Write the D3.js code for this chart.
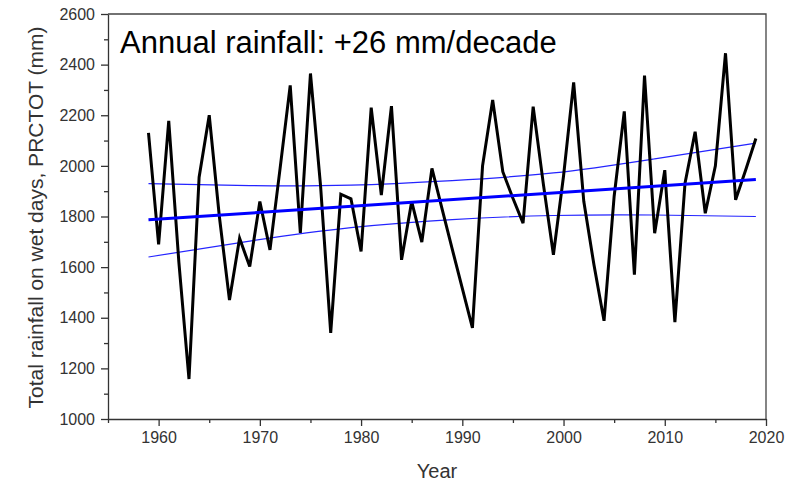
<!DOCTYPE html>
<meta charset="utf-8">

<style>
body { margin: 0; background: #fff; }

.axis text {
  font: 16px Arial, "Liberation Sans", sans-serif;
  fill: #333;
}

.axis path, .axis line {
  stroke: #333;
  stroke-width: 1.3px;
}

.frame {
  fill: none;
  stroke: #444;
  stroke-width: 1.3px;
}

.label {
  font-family: Arial, "Liberation Sans", sans-serif;
  fill: #333;
}

.title {
  font: 31px Arial, "Liberation Sans", sans-serif;
  fill: #000;
}

.rain {
  fill: none;
  stroke: #000;
  stroke-width: 3px;
}

.trend {
  fill: none;
  stroke: #0000ff;
  stroke-width: 3px;
}

.band {
  fill: none;
  stroke: #2424ff;
  stroke-width: 1.2px;
}
</style>

<svg width="800" height="483"></svg>
<script src="https://d3js.org/d3.v7.min.js"></script>

<script>
// annual PRCTOT (mm), 1959-2019
var years = d3.range(1959, 2020);
var rainfall = [
  2130, 1690, 2178, 1620, 1158, 1955, 2200, 1800, 1470, 1714,
  1602, 1859, 1668, 1990, 2318, 1735, 2365, 1920, 1340, 1888,
  1870, 1662, 2230, 1885, 2236, 1629, 1859, 1699, 1990, 1830,
  1672, 1516, 1360, 2000, 2260, 1977, 1872, 1774, 2234, 1930,
  1649, 1960, 2330, 1860, 1610, 1388, 1880, 2215, 1570, 2357,
  1734, 1983, 1383, 1932, 2135, 1813, 2000, 2445, 1866, 1985,
  2108
];

// linear trend (+26 mm/decade)
var trendYears = [1959, 2019];
var trendValues = [1787, 1946];

// confidence band, read at each decade
var bandYears = [1959, 1969, 1979, 1989, 1999, 2009, 2019];
var bandUpper = [1930, 1922, 1924, 1942, 1972, 2028, 2090];
var bandLower = [1640, 1703, 1756, 1788, 1804, 1806, 1800];

var yMajor = [1000, 1200, 1400, 1600, 1800, 2000, 2200, 2400, 2600];
var yMinor = [1100, 1300, 1500, 1700, 1900, 2100, 2300, 2500];
var xMajor = [1960, 1970, 1980, 1990, 2000, 2010, 2020];
var xMinor = [1955, 1965, 1975, 1985, 1995, 2005, 2015];

var svg = d3.select("svg"),
    margin = {top: 14, right: 34, bottom: 64, left: 108},
    width = svg.attr("width") - margin.left - margin.right,
    height = svg.attr("height") - margin.top - margin.bottom,
    g = svg.append("g").attr("transform", "translate(" + margin.left + "," + margin.top + ")");

var x = d3.scaleLinear().domain([1955, 2020]).range([0, width]),
    y = d3.scaleLinear().domain([1000, 2600]).range([height, 0]);

var line = d3.line()
    .x(function(d) { return x(d[0]); })
    .y(function(d) { return y(d[1]); });

var smooth = d3.line()
    .curve(d3.curveNatural)
    .x(function(d) { return x(d[0]); })
    .y(function(d) { return y(d[1]); });

// top and right sides of the box
g.append("path")
    .attr("class", "frame")
    .attr("d", "M0,0H" + width + "V" + height);

// minor ticks
g.append("g")
    .attr("class", "axis")
    .call(d3.axisLeft(y).tickValues(yMinor).tickSize(4).tickFormat(""))
    .select(".domain").remove();

g.append("g")
    .attr("class", "axis")
    .attr("transform", "translate(0," + height + ")")
    .call(d3.axisBottom(x).tickValues(xMinor).tickSize(4).tickFormat(""))
    .select(".domain").remove();

// major ticks
g.append("g")
    .attr("class", "axis axis--y")
    .call(d3.axisLeft(y).tickValues(yMajor).tickSize(7).tickPadding(6).tickSizeOuter(0).tickFormat(d3.format("d")));

g.append("g")
    .attr("class", "axis axis--x")
    .attr("transform", "translate(0," + height + ")")
    .call(d3.axisBottom(x).tickValues(xMajor).tickSize(7).tickPadding(6).tickSizeOuter(0).tickFormat(d3.format("d")));

// axis titles
svg.append("text")
    .attr("class", "label")
    .attr("x", margin.left + width / 2)
    .attr("y", 478)
    .attr("text-anchor", "middle")
    .style("font-size", "20px")
    .text("Year");

svg.append("text")
    .attr("class", "label")
    .attr("transform", "translate(43," + (margin.top + height / 2 + 1) + ") rotate(-90)")
    .attr("text-anchor", "middle")
    .style("font-size", "21px")
    .text("Total rainfall on wet days, PRCTOT (mm)");

// confidence band
g.append("path")
    .attr("class", "band")
    .attr("d", smooth(d3.zip(bandYears, bandUpper)));

g.append("path")
    .attr("class", "band")
    .attr("d", smooth(d3.zip(bandYears, bandLower)));

// rainfall series
g.append("path")
    .attr("class", "rain")
    .attr("d", line(d3.zip(years, rainfall)));

// trend
g.append("path")
    .attr("class", "trend")
    .attr("d", line(d3.zip(trendYears, trendValues)));

g.append("text")
    .attr("class", "title")
    .attr("x", 12)
    .attr("y", 39)
    .text("Annual rainfall: +26 mm/decade");
</script>
